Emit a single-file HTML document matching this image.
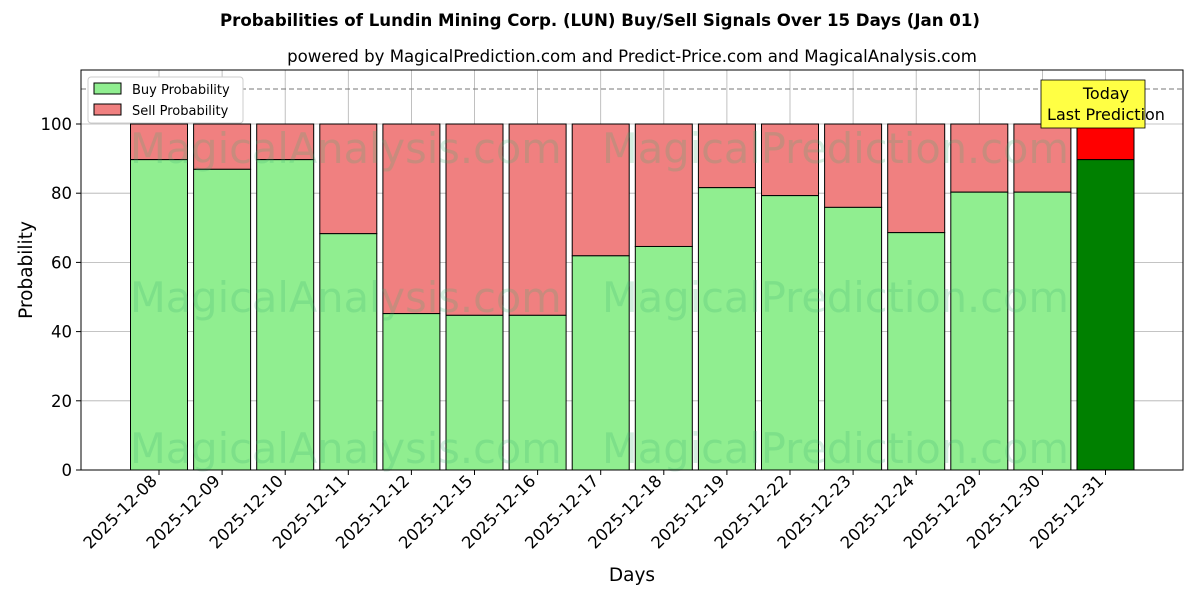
<!DOCTYPE html>
<html><head><meta charset="utf-8"><style>body{margin:0;background:#fff}svg{display:block}text{font-family:"DejaVu Sans","Liberation Sans",sans-serif}</style></head><body>
<svg width="1200" height="600" xmlns="http://www.w3.org/2000/svg">
<text x="600" y="26" text-anchor="middle" font-size="16.6" font-weight="bold">Probabilities of Lundin Mining Corp. (LUN) Buy/Sell Signals Over 15 Days (Jan 01)</text>
<text x="632" y="62" text-anchor="middle" font-size="16.6">powered by MagicalPrediction.com and Predict-Price.com and MagicalAnalysis.com</text>
<g id="bars"></g>
<g font-size="41.5" fill="#3cb371" fill-opacity="0.22">
<text x="130" y="163">MagicalAnalysis.com</text><text x="602" y="163">MagicalPrediction.com</text>
<text x="130" y="312">MagicalAnalysis.com</text><text x="602" y="312">MagicalPrediction.com</text>
<text x="130" y="463">MagicalAnalysis.com</text><text x="602" y="463">MagicalPrediction.com</text>
</g>
<line x1="81" y1="89" x2="1183" y2="89" stroke="#777" stroke-dasharray="5,3"/>
<rect x="81" y="70" width="1102" height="400" fill="none" stroke="#000"/>
<rect x="1041" y="80" width="104" height="48" fill="#ffff44" stroke="#000" stroke-width="0.8"/>
<text x="1106" y="99" text-anchor="middle" font-size="16">Today</text>
<text x="1106" y="120" text-anchor="middle" font-size="16">Last Prediction</text>
<rect x="88" y="77" width="155" height="46" fill="#fff" stroke="#ccc" rx="3"/>
<rect x="94" y="83" width="27" height="11" fill="#90ee90" stroke="#000"/>
<text x="132" y="94" font-size="13">Buy Probability</text>
<rect x="94" y="104" width="27" height="11" fill="#f08080" stroke="#000"/>
<text x="132" y="115" font-size="13">Sell Probability</text>
<text transform="translate(32,270) rotate(-90)" text-anchor="middle" font-size="18.5">Probability</text>
<text x="632" y="581" text-anchor="middle" font-size="18.5">Days</text>
</svg>
<script>
var b=[89.7,86.9,89.7,68.3,45.2,44.7,44.7,61.9,64.6,81.6,79.3,75.9,68.6,80.3,80.3,89.7];
var d=["2025-12-08","2025-12-09","2025-12-10","2025-12-11","2025-12-12","2025-12-15","2025-12-16","2025-12-17","2025-12-18","2025-12-19","2025-12-22","2025-12-23","2025-12-24","2025-12-29","2025-12-30","2025-12-31"];
var s="",a="";
function Y(v){return 470-v*3.46;}
for(var v=0;v<=100;v+=20){a+='<line x1="81" x2="1183" y1="'+Y(v)+'" y2="'+Y(v)+'" stroke="#b0b0b0" stroke-width="0.8"/><line x1="76" x2="81" y1="'+Y(v)+'" y2="'+Y(v)+'" stroke="#000"/><text x="72" y="'+(Y(v)+6)+'" text-anchor="end" font-size="16.5">'+v+'</text>';}
for(var i=0;i<16;i++){var c=159+i*63.1,x=c-28.5,l=i==15;
a+='<line x1="'+c+'" x2="'+c+'" y1="70" y2="470" stroke="#b0b0b0" stroke-width="0.8"/><line x1="'+c+'" x2="'+c+'" y1="470" y2="475" stroke="#000"/><text transform="translate('+(c-1)+',482) rotate(-45)" text-anchor="end" font-size="16.5">'+d[i]+'</text>';
s+='<rect x="'+x+'" y="'+Y(100)+'" width="57" height="'+((100-b[i])*3.46)+'" fill="'+(l?'#ff0000':'#f08080')+'" stroke="#000"/><rect x="'+x+'" y="'+Y(b[i])+'" width="57" height="'+(b[i]*3.46)+'" fill="'+(l?'#008000':'#90ee90')+'" stroke="#000"/>';}
var g=document.getElementById('bars');g.innerHTML=a+s;
</script>
</body></html>
